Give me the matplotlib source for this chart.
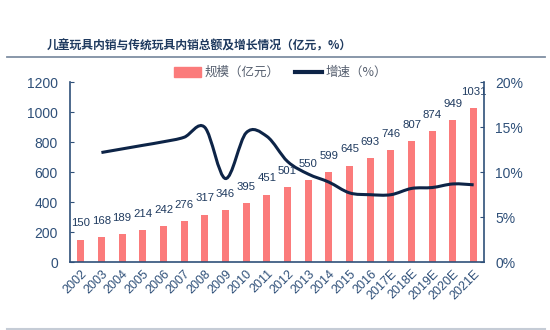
import numpy as np
import matplotlib
matplotlib.use('Agg')
import matplotlib.pyplot as plt
from matplotlib.path import Path
from matplotlib.patches import PathPatch
from matplotlib.lines import Line2D
from matplotlib.patches import Patch

plt.rcParams['font.family'] = ['Liberation Sans', 'Noto Sans CJK SC', 'DejaVu Sans']

# data
years = ['2002', '2003', '2004', '2005', '2006', '2007', '2008', '2009', '2010', '2011',
         '2012', '2013', '2014', '2015', '2016', '2017E', '2018E', '2019E', '2020E', '2021E']
scale = [150, 168, 189, 214, 242, 276, 317, 346, 395, 451,
         501, 550, 599, 645, 693, 746, 807, 874, 949, 1031]
growth = [12.2, 12.6, 13.0, 13.4, 13.9, 15.0, 9.3, 14.4, 14.0,
          11.2, 9.8, 8.9, 7.7, 7.5, 7.5, 8.2, 8.3, 8.7, 8.6]   # 2003-2021

navy = '#1f3a5f'
axcol = '#2f5079'
barcol = '#fb7b7b'
linecol = '#0d2447'

fig = plt.figure(figsize=(5.5, 3.3), dpi=100)
ax = fig.add_axes([0.128, 0.206, 0.752, 0.544])
x = np.arange(len(years))
ax.bar(x, scale, width=0.34, color=barcol, zorder=2)
for xi, v in zip(x, scale):
    ax.annotate(str(v), (xi, v), xytext=(0, 8), textcoords='offset points',
                ha='center', va='bottom', fontsize=8.2, color=navy)
ax.set_xlim(-0.5, len(years) - 0.5)
ax.set_ylim(0, 1200)
ax.set_yticks(range(0, 1201, 200))
ax.set_xticks(x)
ax.set_xticklabels(years, rotation=45, ha='right', rotation_mode='anchor', fontsize=9, color=axcol)
ax.tick_params(axis='x', length=0, pad=4)
ax.tick_params(axis='y', direction='in', length=3, color=axcol, labelcolor=axcol, labelsize=10, pad=9)
for s in ['top', 'right']:
    ax.spines[s].set_visible(False)
for s in ['left', 'bottom']:
    ax.spines[s].set_color(axcol)
    ax.spines[s].set_linewidth(1.2)

ax2 = ax.twinx()
ax2.set_ylim(0, 20)
ax2.set_yticks(range(0, 21, 5))
ax2.set_yticklabels([f'{t}%' for t in range(0, 21, 5)])
ax2.tick_params(axis='y', direction='in', length=3, color=axcol, labelcolor=axcol, labelsize=10, pad=8)
for s in ['top', 'left', 'bottom']:
    ax2.spines[s].set_visible(False)
ax2.spines['right'].set_color(axcol)
ax2.spines['right'].set_linewidth(1.2)

# smoothed growth line (Catmull-Rom rendered as cubic Bezier)
gx = x[1:].astype(float)
gy = np.array(growth)
pts = np.column_stack([gx, gy])
verts = [pts[0]]
codes = [Path.MOVETO]
n = len(pts)
for i in range(n - 1):
    p0 = pts[max(i - 1, 0)]
    p1 = pts[i]
    p2 = pts[i + 1]
    p3 = pts[min(i + 2, n - 1)]
    verts += [p1 + (p2 - p0) / 6, p2 - (p3 - p1) / 6, p2]
    codes += [Path.CURVE4] * 3
ax2.add_patch(PathPatch(Path(verts, codes), fill=False, edgecolor=linecol, lw=2.2, zorder=3))

# legend
handles = [Patch(color=barcol), Line2D([], [], color=linecol, lw=3)]
fig.legend(handles, ['规模（亿元）', '增速（%）'], loc='center', bbox_to_anchor=(0.51, 0.78),
           ncol=2, frameon=False, handlelength=2.2, handleheight=0.8,
           columnspacing=1.2, handletextpad=0.3, labelcolor='#555e6e',
           prop={'family': ['Noto Sans CJK SC', 'DejaVu Sans'], 'size': 9})

# title and rules
fig.text(0.085, 0.862, '儿童玩具内销与传统玩具内销总额及增长情况（亿元，%）',
         fontsize=8.5, fontweight='bold', color=navy, va='center',
         family=['Noto Sans CJK SC', 'DejaVu Sans'])
fig.add_artist(Line2D([0.013, 0.99], [0.827, 0.827], color='#7f8fa3', lw=1.3))
fig.add_artist(Line2D([0.013, 0.99], [0.004, 0.004], color='#c5ccd6', lw=1.5))

fig.savefig('out.png', dpi=100)
